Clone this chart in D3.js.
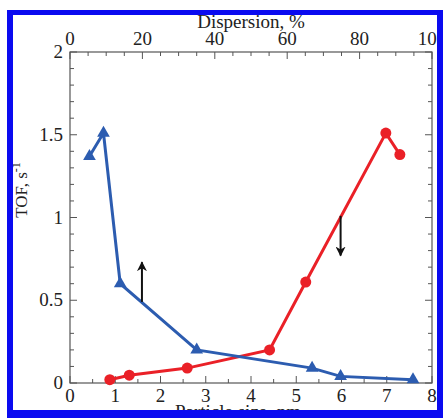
<!DOCTYPE html>
<html>
<head>
<meta charset="utf-8">
<script src="https://cdn.jsdelivr.net/npm/d3@7"></script>
<style>
  html, body { margin: 0; padding: 0; background: #fff; }
  svg { display: block; }
  text { font-family: "Liberation Serif", "DejaVu Serif", serif; fill: #222; }
</style>
</head>
<body>
<svg id="chart" width="443" height="418"></svg>
<script>
// Particle size (nm) vs TOF (s^-1)
const sizeBlue = [0.43, 0.74, 1.11, 2.80, 5.35, 5.98, 7.58];
const tofBlue  = [1.37, 1.51, 0.60, 0.20, 0.09, 0.04, 0.02];
const sizeRed  = [0.88, 1.31, 2.59, 4.41, 5.21, 6.98, 7.29];
const tofRed   = [0.02, 0.047, 0.09, 0.20, 0.61, 1.51, 1.38];

// Trend arrows: [x, yFrom, yTo]
const arrows = [[1.59, 0.49, 0.73], [5.98, 1.01, 0.77]];

const sizeTicks = [0, 1, 2, 3, 4, 5, 6, 7, 8];
const dispTicks = [0, 20, 40, 60, 80, 100];
const tofTicks = [0, 0.5, 1, 1.5, 2];

const svg = d3.select("#chart");
const plotL = 70, plotR = 432, plotT = 52, plotB = 383;

const x = d3.scaleLinear().domain([0, 8]).range([plotL, plotR]);
const xTop = d3.scaleLinear().domain([0, 100]).range([plotL, plotR]);
const y = d3.scaleLinear().domain([0, 2]).range([plotB, plotT]);

const blue = "#2c5cb0", red = "#ea2027";

// Frame
svg.append("rect").attr("x", plotL).attr("y", plotT)
  .attr("width", plotR - plotL).attr("height", plotB - plotT)
  .attr("fill", "none").attr("stroke", "#555").attr("stroke-width", 1.2);

const tickColor = "#555";
// Bottom axis ticks (inward)
const xMinor = d3.range(0, 8.01, 0.5);
svg.append("g").selectAll("line").data(xMinor).join("line")
  .attr("x1", d => x(d)).attr("x2", d => x(d))
  .attr("y1", plotB).attr("y2", d => plotB - (Number.isInteger(d) ? 7 : 4))
  .attr("stroke", tickColor);
// Top axis ticks (inward)
const topMinor = d3.range(0, 100.1, 5);
svg.append("g").selectAll("line").data(topMinor).join("line")
  .attr("x1", d => xTop(d)).attr("x2", d => xTop(d))
  .attr("y1", plotT).attr("y2", d => plotT + (d % 20 === 0 ? 7 : 4))
  .attr("stroke", tickColor);
// Left and right ticks (inward)
const yMinor = d3.range(0, 2.001, 0.1).map(v => Math.round(v * 10) / 10);
const yg = svg.append("g");
yg.selectAll("line.l").data(yMinor).join("line").attr("class", "l")
  .attr("x1", plotL).attr("x2", d => plotL + (Math.round(d * 10) % 5 === 0 ? 7 : 4))
  .attr("y1", d => y(d)).attr("y2", d => y(d)).attr("stroke", tickColor);
yg.selectAll("line.r").data(yMinor).join("line").attr("class", "r")
  .attr("x1", plotR).attr("x2", d => plotR - (Math.round(d * 10) % 5 === 0 ? 7 : 4))
  .attr("y1", d => y(d)).attr("y2", d => y(d)).attr("stroke", tickColor);

// Tick labels
svg.append("g").selectAll("text").data(sizeTicks).join("text")
  .attr("x", d => x(d)).attr("y", 402).attr("text-anchor", "middle")
  .attr("font-size", 19).text(d => d);
svg.append("g").selectAll("text").data(dispTicks).join("text")
  .attr("x", d => xTop(d)).attr("y", 45).attr("text-anchor", "middle")
  .attr("font-size", 19).text(d => d);
svg.append("g").selectAll("text").data(tofTicks).join("text")
  .attr("x", 63).attr("y", d => y(d) + 6).attr("text-anchor", "end")
  .attr("font-size", 19).text(d => d);

// Axis titles
svg.append("text").attr("x", 251).attr("y", 28).attr("text-anchor", "middle")
  .attr("font-size", 19).text("Dispersion, %");
svg.append("text").attr("x", 238).attr("y", 418).attr("text-anchor", "middle")
  .attr("font-size", 19).text("Particle size, nm");
const yt = svg.append("text")
  .attr("transform", "translate(27,190) rotate(-90)")
  .attr("text-anchor", "middle").attr("font-size", 17);
yt.append("tspan").text("TOF, s");
yt.append("tspan").attr("dy", -7).attr("font-size", 12).text("-1");

// Series
const line = d3.line().x(d => x(d[0])).y(d => y(d[1]));
const blueData = d3.zip(sizeBlue, tofBlue);
const redData = d3.zip(sizeRed, tofRed);

svg.append("path").datum(redData).attr("d", line)
  .attr("fill", "none").attr("stroke", red).attr("stroke-width", 3);
svg.append("g").selectAll("circle").data(redData).join("circle")
  .attr("cx", d => x(d[0])).attr("cy", d => y(d[1])).attr("r", 5.5)
  .attr("fill", red);

svg.append("path").datum(blueData).attr("d", line)
  .attr("fill", "none").attr("stroke", blue).attr("stroke-width", 3);
const tri = d3.symbol().type(d3.symbolTriangle).size(70);
svg.append("g").selectAll("path").data(blueData).join("path")
  .attr("transform", d => `translate(${x(d[0])},${y(d[1])})`)
  .attr("d", tri).attr("fill", blue);

// Arrows
const defs = svg.append("defs");
defs.append("marker").attr("id", "head").attr("viewBox", "0 0 10 10")
  .attr("refX", 9).attr("refY", 5).attr("markerWidth", 5).attr("markerHeight", 5)
  .attr("orient", "auto").attr("markerUnits", "strokeWidth")
  .append("path").attr("d", "M0,0 L10,5 L0,10 L3,5 Z").attr("fill", "#111");
svg.append("g").selectAll("line").data(arrows).join("line")
  .attr("x1", d => x(d[0])).attr("x2", d => x(d[0]))
  .attr("y1", d => y(d[1])).attr("y2", d => y(d[2]))
  .attr("stroke", "#111").attr("stroke-width", 2)
  .attr("marker-end", "url(#head)");

// Outer border (drawn last so it trims the titles)
const bc = "#0a0af0";
svg.append("rect").attr("x", 0).attr("y", 0).attr("width", 443).attr("height", 10).attr("fill", "#fff");
svg.append("rect").attr("x", 0).attr("y", 0).attr("width", 7).attr("height", 418).attr("fill", "#fff");
svg.append("rect").attr("x", 7).attr("y", 10).attr("width", 436).attr("height", 5).attr("fill", bc);
svg.append("rect").attr("x", 7).attr("y", 10).attr("width", 6).attr("height", 408).attr("fill", bc);
svg.append("rect").attr("x", 437).attr("y", 10).attr("width", 6).attr("height", 408).attr("fill", bc);
svg.append("rect").attr("x", 7).attr("y", 410).attr("width", 436).attr("height", 8).attr("fill", bc);
</script>
</body>
</html>
